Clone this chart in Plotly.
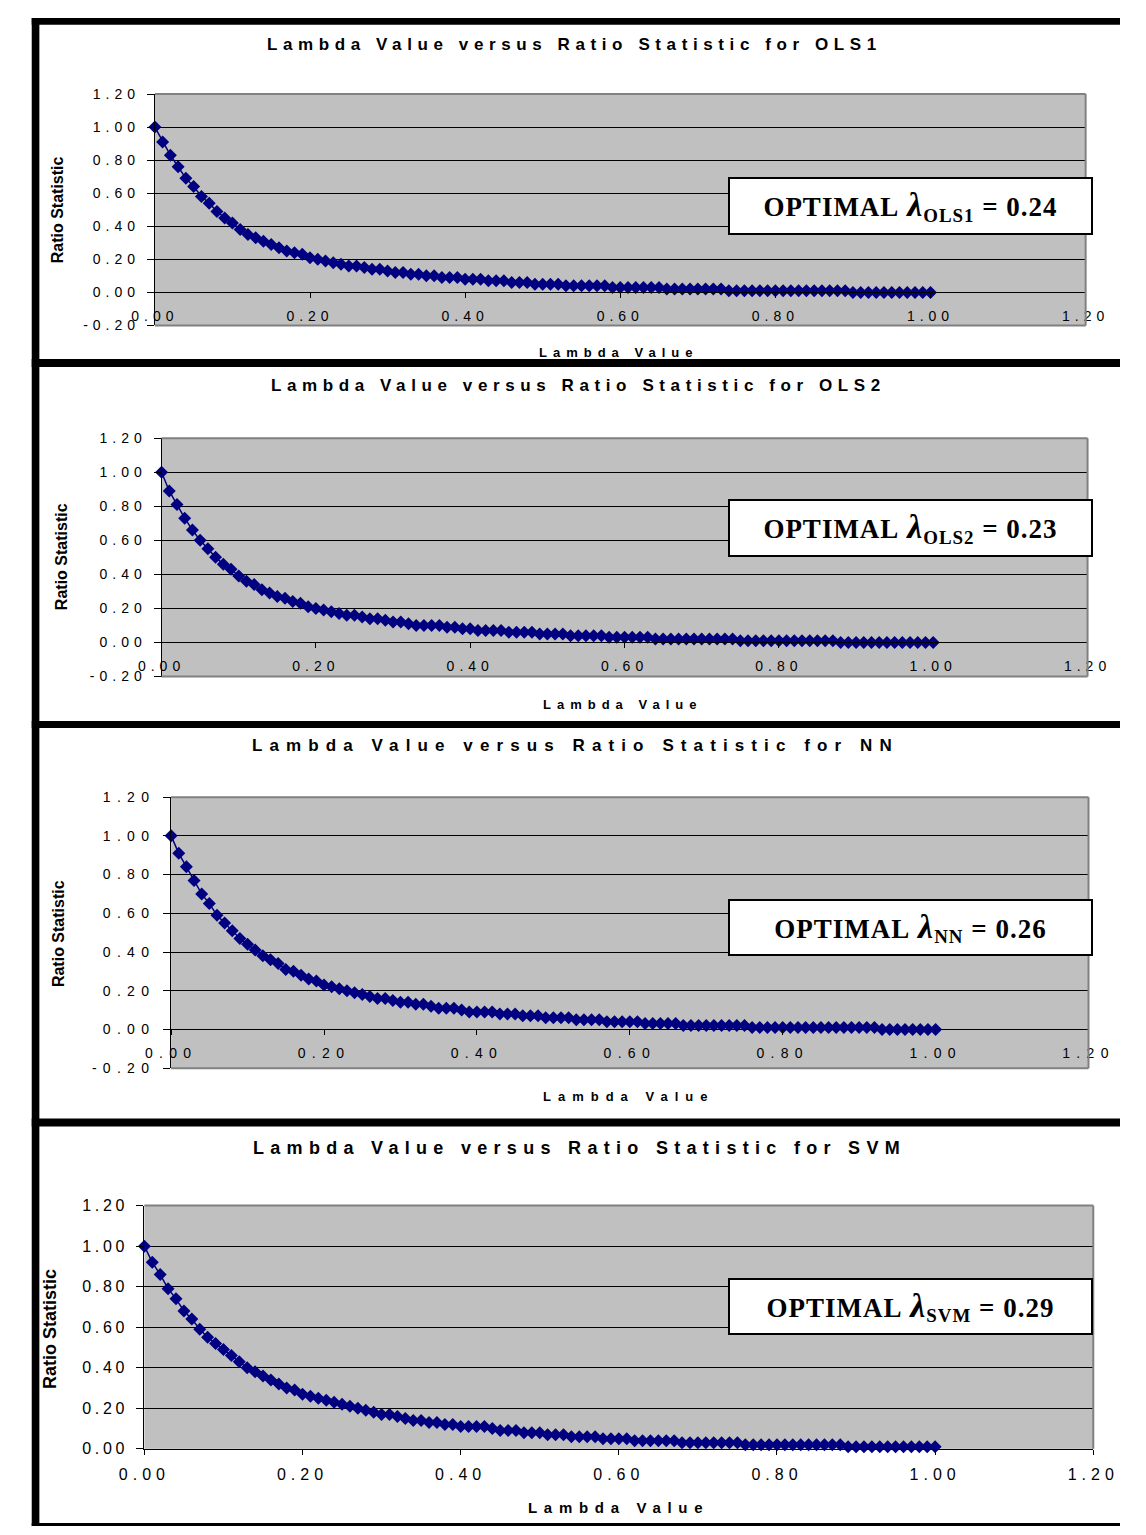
import plotly.graph_objects as go

W, H = 1146, 1535

# ---------------- data ----------------
lambda_values = [
    0.00, 0.01, 0.02, 0.03, 0.04, 0.05, 0.06, 0.07, 0.08, 0.09,
    0.10, 0.11, 0.12, 0.13, 0.14, 0.15, 0.16, 0.17, 0.18, 0.19,
    0.20, 0.21, 0.22, 0.23, 0.24, 0.25, 0.26, 0.27, 0.28, 0.29,
    0.30, 0.31, 0.32, 0.33, 0.34, 0.35, 0.36, 0.37, 0.38, 0.39,
    0.40, 0.41, 0.42, 0.43, 0.44, 0.45, 0.46, 0.47, 0.48, 0.49,
    0.50, 0.51, 0.52, 0.53, 0.54, 0.55, 0.56, 0.57, 0.58, 0.59,
    0.60, 0.61, 0.62, 0.63, 0.64, 0.65, 0.66, 0.67, 0.68, 0.69,
    0.70, 0.71, 0.72, 0.73, 0.74, 0.75, 0.76, 0.77, 0.78, 0.79,
    0.80, 0.81, 0.82, 0.83, 0.84, 0.85, 0.86, 0.87, 0.88, 0.89,
    0.90, 0.91, 0.92, 0.93, 0.94, 0.95, 0.96, 0.97, 0.98, 0.99,
    1.00]

ratio_ols1 = [
    1.00, 0.91, 0.83, 0.76, 0.69, 0.64, 0.58, 0.54, 0.49, 0.45,
    0.42, 0.38, 0.35, 0.33, 0.31, 0.29, 0.27, 0.25, 0.24, 0.23,
    0.21, 0.20, 0.19, 0.18, 0.17, 0.16, 0.16, 0.15, 0.14, 0.14,
    0.13, 0.12, 0.12, 0.11, 0.11, 0.10, 0.10, 0.09, 0.09, 0.09,
    0.08, 0.08, 0.08, 0.07, 0.07, 0.07, 0.06, 0.06, 0.06, 0.05,
    0.05, 0.05, 0.05, 0.04, 0.04, 0.04, 0.04, 0.04, 0.04, 0.03,
    0.03, 0.03, 0.03, 0.03, 0.03, 0.03, 0.02, 0.02, 0.02, 0.02,
    0.02, 0.02, 0.02, 0.02, 0.01, 0.01, 0.01, 0.01, 0.01, 0.01,
    0.01, 0.01, 0.01, 0.01, 0.01, 0.01, 0.01, 0.01, 0.01, 0.01,
    0.00, 0.00, 0.00, 0.00, 0.00, 0.00, 0.00, 0.00, 0.00, 0.00,
    0.00]

ratio_ols2 = [
    1.00, 0.89, 0.81, 0.73, 0.66, 0.60, 0.55, 0.50, 0.46, 0.43,
    0.39, 0.36, 0.34, 0.31, 0.29, 0.27, 0.26, 0.24, 0.23, 0.21,
    0.20, 0.19, 0.18, 0.17, 0.16, 0.16, 0.15, 0.14, 0.14, 0.13,
    0.12, 0.12, 0.11, 0.10, 0.10, 0.10, 0.10, 0.09, 0.09, 0.08,
    0.08, 0.07, 0.07, 0.07, 0.07, 0.06, 0.06, 0.06, 0.06, 0.05,
    0.05, 0.05, 0.05, 0.04, 0.04, 0.04, 0.04, 0.04, 0.03, 0.03,
    0.03, 0.03, 0.03, 0.03, 0.02, 0.02, 0.02, 0.02, 0.02, 0.02,
    0.02, 0.02, 0.02, 0.02, 0.02, 0.01, 0.01, 0.01, 0.01, 0.01,
    0.01, 0.01, 0.01, 0.01, 0.01, 0.01, 0.01, 0.01, 0.00, 0.00,
    0.00, 0.00, 0.00, 0.00, 0.00, 0.00, 0.00, 0.00, 0.00, 0.00,
    0.00]

ratio_nn = [
    1.00, 0.91, 0.84, 0.77, 0.70, 0.65, 0.59, 0.55, 0.51, 0.47,
    0.44, 0.41, 0.38, 0.36, 0.34, 0.31, 0.30, 0.28, 0.26, 0.25,
    0.23, 0.22, 0.21, 0.20, 0.19, 0.18, 0.17, 0.16, 0.16, 0.15,
    0.14, 0.14, 0.13, 0.13, 0.12, 0.11, 0.11, 0.11, 0.10, 0.09,
    0.09, 0.09, 0.09, 0.08, 0.08, 0.08, 0.07, 0.07, 0.07, 0.06,
    0.06, 0.06, 0.06, 0.05, 0.05, 0.05, 0.05, 0.04, 0.04, 0.04,
    0.04, 0.04, 0.03, 0.03, 0.03, 0.03, 0.03, 0.02, 0.02, 0.02,
    0.02, 0.02, 0.02, 0.02, 0.02, 0.02, 0.01, 0.01, 0.01, 0.01,
    0.01, 0.01, 0.01, 0.01, 0.01, 0.01, 0.01, 0.01, 0.01, 0.01,
    0.01, 0.01, 0.01, 0.00, 0.00, 0.00, 0.00, 0.00, 0.00, 0.00,
    0.00]

ratio_svm = [
    1.00, 0.92, 0.86, 0.79, 0.74, 0.68, 0.64, 0.59, 0.55, 0.52,
    0.49, 0.46, 0.43, 0.40, 0.38, 0.36, 0.34, 0.32, 0.30, 0.29,
    0.27, 0.26, 0.25, 0.24, 0.23, 0.22, 0.21, 0.20, 0.19, 0.18,
    0.17, 0.17, 0.16, 0.15, 0.14, 0.14, 0.13, 0.13, 0.12, 0.12,
    0.11, 0.11, 0.11, 0.11, 0.10, 0.09, 0.09, 0.09, 0.08, 0.08,
    0.08, 0.07, 0.07, 0.07, 0.06, 0.06, 0.06, 0.06, 0.05, 0.05,
    0.05, 0.05, 0.04, 0.04, 0.04, 0.04, 0.04, 0.04, 0.03, 0.03,
    0.03, 0.03, 0.03, 0.03, 0.03, 0.03, 0.02, 0.02, 0.02, 0.02,
    0.02, 0.02, 0.02, 0.02, 0.02, 0.02, 0.02, 0.02, 0.02, 0.01,
    0.01, 0.01, 0.01, 0.01, 0.01, 0.01, 0.01, 0.01, 0.01, 0.01,
    0.01]

model_names = ["OLS1", "OLS2", "NN", "SVM"]
optimal_lambdas = ["0.24", "0.23", "0.26", "0.29"]
series = [ratio_ols1, ratio_ols2, ratio_nn, ratio_svm]

y_tick_values = [-0.2, 0.0, 0.2, 0.4, 0.6, 0.8, 1.0, 1.2]
y_tick_labels = ["-0.20", "0.00", "0.20", "0.40", "0.60", "0.80", "1.00", "1.20"]
x_tick_values = [0.0, 0.2, 0.4, 0.6, 0.8, 1.0, 1.2]
x_tick_labels = ["0.00", "0.20", "0.40", "0.60", "0.80", "1.00", "1.20"]

title_text = "Lambda Value versus Ratio Statistic for "
x_title_text = "Lambda Value"
y_title_text = "Ratio Statistic"

# ---------------- layout (pixel geometry) ----------------
SANS = "Liberation Sans, Arial, sans-serif"
SERIF = "Liberation Serif, Times New Roman, serif"
NAVY = "#000080"
FRAME = "#808080"

panel_geom = [
    dict(plot=(135, 1110, 87, 321), ymin=-0.2, free=True,
         title=(575, 37, 17, 5.6), xtitle=(621, 348, 13, 6.0), ytitle=(33, 204, 16),
         box=(744, 1109, 171, 229), ytick=(14, 5.0, 4), xtick=(14, 5.0, 6)),
    dict(plot=(142, 1112, 435, 676), ymin=-0.2, free=True,
         title=(579, 382, 17, 5.6), xtitle=(625, 704, 13, 6.0), ytitle=(38, 555, 16),
         box=(744, 1109, 497, 555), ytick=(14, 5.0, 4), xtick=(14, 5.0, 6)),
    dict(plot=(152, 1113, 798, 1072), ymin=-0.2, free=True,
         title=(576, 746, 17, 7.1), xtitle=(631, 1101, 13, 7.0), ytitle=(34, 936, 16),
         box=(744, 1109, 901, 958), ytick=(14, 6.3, 5), xtick=(14, 6.3, 6)),
    dict(plot=(124, 1118, 1211, 1457), ymin=0.0, free=False,
         title=(580, 1153, 18, 6.3), xtitle=(621, 1516, 15, 6.7), ytitle=(25, 1336, 18),
         box=(744, 1109, 1285, 1342), ytick=(16, 3.7, 5), xtick=(16, 5.0, 6)),
]


def px_x(x):
    return x / W


def px_y(y):
    return 1 - y / H


def spaced(text, ls):
    return '<span style="letter-spacing:%spx">%s</span>' % (ls, text)


fig = go.Figure()
annotations = []
shapes = []

for i, (g, name, vals, opt) in enumerate(zip(panel_geom, model_names, series, optimal_lambdas)):
    n = i + 1
    xa = "x" if n == 1 else "x%d" % n
    ya = "y" if n == 1 else "y%d" % n
    x0, x1, ytop, ybot = g["plot"]
    ymin, ymax = g["ymin"], 1.2
    dom_x = [px_x(x0), px_x(x1)]
    dom_y = [px_y(ybot), px_y(ytop)]

    fig.add_trace(go.Scatter(
        x=lambda_values, y=vals, mode="lines+markers", xaxis=xa, yaxis=ya,
        line=dict(color=NAVY, width=1.5),
        marker=dict(symbol="diamond", size=10, color=NAVY),
        cliponaxis=False, showlegend=False, hoverinfo="x+y"))

    yt_vals = [v for v in y_tick_values if v >= ymin - 1e-9]
    yt_text = [spaced(t, g["ytick"][1]) for v, t in zip(y_tick_values, y_tick_labels) if v >= ymin - 1e-9]
    yaxis = dict(domain=dom_y, range=[ymin, ymax], anchor=xa, tickmode="array",
                 tickvals=yt_vals, ticktext=yt_text,
                 tickfont=dict(family=SANS, size=g["ytick"][0], color="black"),
                 ticks="outside", ticklen=7, tickcolor="black", tickwidth=1,
                 ticklabelstandoff=g["ytick"][2],
                 showline=True, linecolor="black", linewidth=1,
                 showgrid=True, gridcolor="black", gridwidth=1, zeroline=False)
    xaxis = dict(domain=dom_x, range=[0, 1.2], tickmode="array",
                 tickvals=x_tick_values,
                 ticktext=[spaced(t, g["xtick"][1]) for t in x_tick_labels],
                 tickfont=dict(family=SANS, size=g["xtick"][0], color="black"),
                 ticks="outside", ticklen=5, tickcolor="black", tickwidth=1,
                 ticklabelstandoff=g["xtick"][2],
                 showline=True, linecolor="black", linewidth=1,
                 showgrid=False, zeroline=False)
    if g["free"]:
        pos = dom_y[0] + (0 - ymin) / (ymax - ymin) * (dom_y[1] - dom_y[0])
        xaxis.update(anchor="free", position=pos)
    else:
        xaxis.update(anchor=ya)
    fig.update_layout(**{("xaxis" if n == 1 else "xaxis%d" % n): xaxis,
                         ("yaxis" if n == 1 else "yaxis%d" % n): yaxis})

    # plot-area frame (grey): top, right, and (when not the x axis) bottom
    fx0, fx1 = dom_x
    fy0, fy1 = dom_y
    frame_lines = [(fx0, fy1, fx1, fy1), (fx1, fy0, fx1, fy1)]
    if g["free"]:
        frame_lines.append((fx0, fy0, fx1, fy0))
    for a0, b0, a1, b1 in frame_lines:
        shapes.append(dict(type="line", xref="paper", yref="paper",
                           x0=a0, y0=b0, x1=a1, y1=b1, layer="above",
                           line=dict(color=FRAME, width=2)))

    # chart title
    tx, ty, tsz, tls = g["title"]
    annotations.append(dict(text="<b>" + spaced(title_text + name, tls) + "</b>",
                            x=px_x(tx), y=px_y(ty), xref="paper", yref="paper",
                            xanchor="center", yanchor="middle", showarrow=False,
                            font=dict(family=SANS, size=tsz, color="black")))
    # x axis title
    ax_, ay_, asz, als = g["xtitle"]
    annotations.append(dict(text="<b>" + spaced(x_title_text, als) + "</b>",
                            x=px_x(ax_), y=px_y(ay_), xref="paper", yref="paper",
                            xanchor="center", yanchor="middle", showarrow=False,
                            font=dict(family=SANS, size=asz, color="black")))
    # y axis title
    yx, yy, ysz = g["ytitle"]
    annotations.append(dict(text="<b>" + y_title_text + "</b>", textangle=-90,
                            x=px_x(yx), y=px_y(yy), xref="paper", yref="paper",
                            xanchor="center", yanchor="middle", showarrow=False,
                            font=dict(family=SANS, size=ysz, color="black")))
    # optimal lambda box
    bx0, bx1, by0, by1 = g["box"]
    box_text = ('<b><span style="letter-spacing:1px">OPTIMAL&nbsp;'
                '<span style="font-size:34px"><i>λ</i></span>'
                '<sub>%s</sub> = %s</span></b>' % (name, opt))
    annotations.append(dict(text=box_text,
                            x=px_x((bx0 + bx1) / 2), y=px_y((by0 + by1) / 2),
                            xref="paper", yref="paper", xanchor="center", yanchor="middle",
                            showarrow=False, width=bx1 - bx0 - 4, height=by1 - by0 - 4,
                            bgcolor="white", bordercolor="black", borderwidth=2, borderpad=0,
                            font=dict(family=SERIF, size=27, color="black")))

# thick black frame bars
bars = [
    (6, W, 10, 17),        # top
    (6, 14, 10, H),        # left
    (6, W, 355, 363),      # separators
    (6, W, 721, 728),
    (6, W, 1123, 1131),
    (6, W, 1532, H),       # bottom
]
for x0, x1, y0, y1 in bars:
    shapes.append(dict(type="rect", xref="paper", yref="paper",
                       x0=px_x(x0), x1=px_x(x1), y0=px_y(y1), y1=px_y(y0),
                       fillcolor="black", line=dict(width=0), layer="above"))

fig.update_layout(
    width=W, height=H, margin=dict(l=0, r=0, t=0, b=0), autosize=False,
    paper_bgcolor="white", plot_bgcolor="#C0C0C0",
    annotations=annotations, shapes=shapes, showlegend=False,
    font=dict(family=SANS, color="black"),
)

fig.write_html("out.html",
               config={"staticPlot": True, "responsive": False, "displayModeBar": False},
               post_script="document.body.style.margin='0';document.documentElement.style.overflow='hidden';")
